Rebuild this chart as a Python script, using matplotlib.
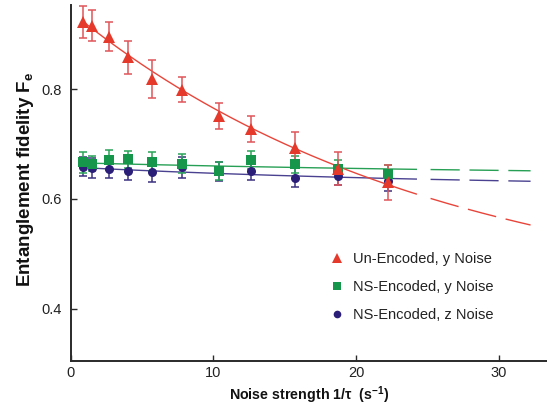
import numpy as np
import matplotlib
matplotlib.use("Agg")
import matplotlib.pyplot as plt
from matplotlib.lines import Line2D

plt.rcParams['font.family'] = ['Liberation Sans', 'DejaVu Sans']
plt.rcParams['mathtext.fontset'] = 'custom'
plt.rcParams['mathtext.rm'] = 'Liberation Sans'
plt.rcParams['mathtext.bf'] = 'Liberation Sans:bold'
plt.rcParams['mathtext.it'] = 'Liberation Sans:italic'

# Measured entanglement fidelity vs noise strength
unenc_x = [0.9, 1.5, 2.7, 4.0, 5.7, 7.8, 10.4, 12.6, 15.7, 18.7, 22.2]
unenc_y = [0.922, 0.915, 0.895, 0.858, 0.818, 0.799, 0.751, 0.727, 0.692, 0.655, 0.630]
unenc_err = [0.029, 0.028, 0.026, 0.030, 0.035, 0.023, 0.023, 0.023, 0.030, 0.030, 0.031]

nsy_x = [0.9, 1.5, 2.7, 4.0, 5.7, 7.8, 10.4, 12.6, 15.7, 18.7, 22.2]
nsy_y = [0.667, 0.664, 0.671, 0.672, 0.668, 0.664, 0.651, 0.671, 0.663, 0.655, 0.645]
nsy_err = [0.019, 0.014, 0.018, 0.016, 0.018, 0.017, 0.016, 0.016, 0.016, 0.015, 0.017]

nsz_x = [0.9, 1.5, 2.7, 4.0, 5.7, 7.8, 10.4, 12.6, 15.7, 18.7, 22.2]
nsz_y = [0.659, 0.656, 0.655, 0.651, 0.649, 0.658, 0.650, 0.650, 0.639, 0.641, 0.633]
nsz_err = [0.017, 0.018, 0.016, 0.017, 0.018, 0.019, 0.018, 0.016, 0.017, 0.015, 0.018]

# Exponential decay fits: F = offset + amplitude * exp(-rate * x)
unenc_fit = dict(offset=0.400, amplitude=0.541, rate=0.0393)
nsy_fit = dict(offset=0.640, amplitude=0.026, rate=0.026)
nsz_fit = dict(offset=0.620, amplitude=0.038, rate=0.0353)

fit_start, fit_solid_end, fit_end = 0.9, 24.2, 32.2

labels = ['Un-Encoded, y Noise', 'NS-Encoded, y Noise', 'NS-Encoded, z Noise']
red, green, navy = '#e5392b', '#15964a', '#2a1e78'
red_eb, green_eb, navy_eb = '#e0555a', '#2aa45a', '#3a3280'

fig = plt.figure(figsize=(5.47, 4.07), dpi=100)
ax = fig.add_axes([0.129, 0.114, 0.871, 0.874])


def fit_curve(p, x):
    return p['offset'] + p['amplitude'] * np.exp(-p['rate'] * x)


series = [
    (nsz_x, nsz_y, nsz_err, nsz_fit, navy, navy_eb, 'o', 6.5, '#4a4290'),
    (nsy_x, nsy_y, nsy_err, nsy_fit, green, green_eb, 's', 6.5, '#27a055'),
    (unenc_x, unenc_y, unenc_err, unenc_fit, red, red_eb, '^', 8.0, '#e8453a'),
]

for x, y, e, p, col, ecol, mk, ms, lcol in series:
    xs = np.linspace(fit_start, fit_solid_end, 200)
    ax.plot(xs, fit_curve(p, xs), color=lcol, lw=1.0, zorder=2)
    xd = np.linspace(fit_solid_end + 1.0, fit_end, 200)
    ax.plot(xd, fit_curve(p, xd), color=lcol, lw=1.0, zorder=2,
            dashes=(21, 7))

for x, y, e, p, col, ecol, mk, ms, lcol in series:
    ax.errorbar(x, y, yerr=e, fmt='none', ecolor=ecol, elinewidth=1.1,
                capsize=3.0, capthick=1.1, zorder=3)
    ax.plot(x, y, linestyle='none', marker=mk, ms=ms, color=col,
            markeredgewidth=0, zorder=4)

ax.set_xlim(0, 33.35)
ax.set_ylim(0.306, 0.953)
ax.set_xticks([0, 10, 20, 30])
ax.set_yticks([0.4, 0.6, 0.8])
ax.set_yticklabels(['0.4', '0.6', '0.8'])

for s in ['top', 'right']:
    ax.spines[s].set_visible(False)
for s in ['left', 'bottom']:
    ax.spines[s].set_color('#2a2a2a')
    ax.spines[s].set_linewidth(1.4)

ax.tick_params(direction='in', length=4, width=1, color='#2a2a2a',
               labelsize=10.5, labelcolor='#222222', pad=6)
ax.tick_params(axis='x', pad=4)

ax.set_xlabel(r'Noise strength 1/τ  (s$^{\mathbf{-1}}$)', fontsize=10.3,
              fontweight='bold', color='#111111')
ax.xaxis.set_label_coords(0.5, -0.068, transform=ax.transAxes)
ax.xaxis.label.set_verticalalignment('top')
ax.set_ylabel(r'Entanglement fidelity F$_{\mathbf{e}}$', fontsize=13.5,
              fontweight='bold', color='#111111')
ax.yaxis.set_label_coords(-0.095, 0.51, transform=ax.transAxes)
ax.yaxis.label.set_verticalalignment('center')

handles = [
    Line2D([], [], linestyle='none', marker='^', ms=7, color=red, markeredgewidth=0),
    Line2D([], [], linestyle='none', marker='s', ms=5.5, color=green, markeredgewidth=0),
    Line2D([], [], linestyle='none', marker='o', ms=5.5, color=navy, markeredgewidth=0),
]
ax.legend(handles, labels, loc='upper left', bbox_to_anchor=(0.517, 0.342),
          frameon=False, fontsize=10.5, handlelength=1.0, handletextpad=0.6,
          labelspacing=0.95, labelcolor='#222222')

fig.savefig('out.png', dpi=100)
